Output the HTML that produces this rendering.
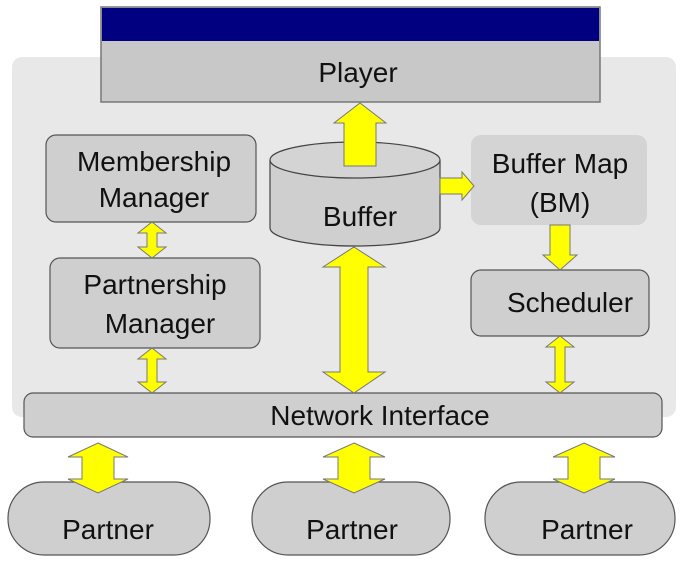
<!DOCTYPE html>
<html><head><style>body{margin:0;background:#fff}svg{display:block}text{font-family:"Liberation Sans",Arial,sans-serif;fill:#111}</style></head><body>
<svg width="683" height="571" viewBox="0 0 683 571" xmlns="http://www.w3.org/2000/svg">
<rect x="12" y="57" width="664" height="360" rx="10" fill="#e8e8e8"/>
<rect x="101" y="7" width="499" height="95" fill="#c8c8c8" stroke="#777" stroke-width="1.5"/>
<rect x="102" y="8" width="497" height="33" fill="#000080"/>
<g font-size="28" text-anchor="middle">
<text x="358" y="82">Player</text>
</g>
<rect x="46" y="135" width="210" height="87" rx="10" fill="#cfcfcf" stroke="#555" stroke-width="1.2"/>
<rect x="50" y="258" width="210" height="90" rx="10" fill="#cfcfcf" stroke="#555" stroke-width="1.2"/>
<rect x="471" y="135" width="176" height="90" rx="10" fill="#d4d4d4"/>
<rect x="471" y="270" width="178" height="66" rx="10" fill="#cfcfcf" stroke="#555" stroke-width="1.2"/>
<path d="M270 160 L270 228 A85 18 0 0 0 440 228 L440 160" fill="#cfcfcf" stroke="#444" stroke-width="1.2"/>
<ellipse cx="355" cy="160" rx="85" ry="18" fill="#d4d4d4" stroke="#444" stroke-width="1.2"/>
<rect x="24" y="393" width="638" height="44" rx="9" fill="#cfcfcf" stroke="#555" stroke-width="1.2"/>
<g fill="#cfcfcf" stroke="#555" stroke-width="1.2">
<rect x="8" y="482" width="202" height="73" rx="36"/>
<rect x="252" y="482" width="198" height="73" rx="36"/>
<rect x="485" y="482" width="190" height="73" rx="36"/>
</g>
<g font-size="28" text-anchor="middle">
<text x="154" y="171">Membership</text>
<text x="154" y="207">Manager</text>
<text x="155" y="294">Partnership</text>
<text x="160" y="333">Manager</text>
<text x="560" y="173">Buffer Map</text>
<text x="560" y="212">(BM)</text>
<text x="570" y="312">Scheduler</text>
<text x="360" y="226">Buffer</text>
<text x="380" y="425">Network Interface</text>
<text x="108" y="539">Partner</text><text x="352" y="539">Partner</text><text x="587" y="539">Partner</text>
</g>
<g fill="#ffff00" stroke="#777" stroke-width="1">
<polygon points="360,103 386,123 376,123 376,166 344,166 344,123 334,123"/>
<polygon points="440,178 462,178 462,172 474,186 462,200 462,194 440,194"/>
<polygon points="550,225 570,225 570,255 577,255 560,270 543,255 550,255"/>
<polygon points="152,222 166,233 157,233 157,247 166,247 152,258 138,247 147,247 147,233 138,233"/>
<polygon points="152,348 166,359 157,359 157,382 166,382 152,393 138,382 147,382 147,359 138,359"/>
<polygon points="560,336 574,347 565,347 565,382 574,382 560,393 546,382 555,382 555,347 546,347"/>
<polygon points="354,247 385,267 368,267 368,372 385,372 354,393 323,372 340,372 340,267 323,267"/>
<polygon points="98,443 128,457 114,457 114,479 128,479 98,493 68,479 82,479 82,457 68,457"/>
<polygon points="354,443 385,457 370,457 370,479 385,479 354,493 323,479 338,479 338,457 323,457"/>
<polygon points="584,443 615,457 600,457 600,479 615,479 584,493 553,479 568,479 568,457 553,457"/>
</g>
</svg>
</body></html>
